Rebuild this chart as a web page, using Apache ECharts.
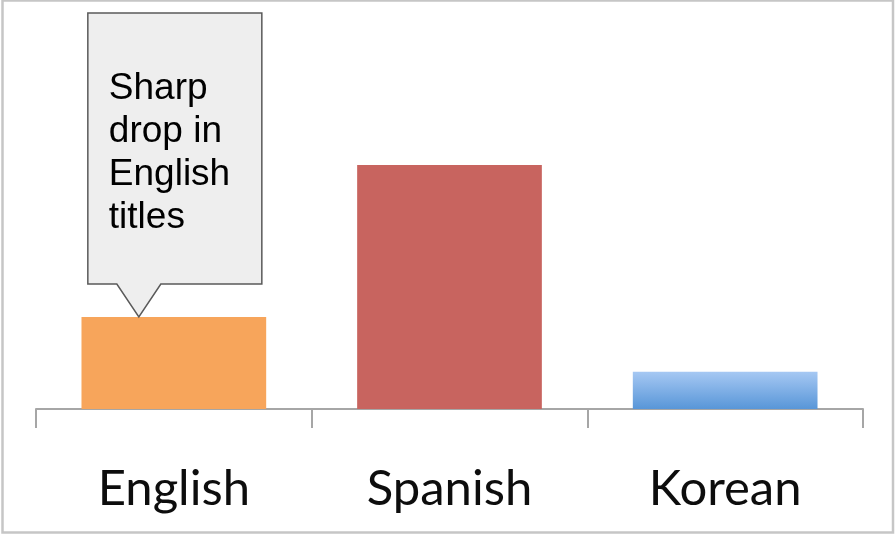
<!DOCTYPE html>
<html>
<head>
<meta charset="utf-8">
<script src="https://cdn.jsdelivr.net/npm/echarts@6/dist/echarts.min.js"></script>
<style>
  html, body { margin: 0; padding: 0; background: #fff; }
  #chart { width: 896px; height: 537px; }
</style>
</head>
<body>
<div id="chart"></div>
<script>
// Titles by language (relative share)
var languages = ['English', 'Spanish', 'Korean'];
var shares = [23, 61, 9.3];
var barColors = ['#f7a55b', '#c8645f', null];
var calloutLines = ['Sharp', 'drop in', 'English', 'titles'];

var chart = echarts.init(document.getElementById('chart'), null, { renderer: 'canvas' });

var blueFill = new echarts.graphic.LinearGradient(0, 0, 0, 1, [
  { offset: 0, color: '#a6c8f3' },
  { offset: 1, color: '#5896d8' }
]);

chart.setOption({
  animation: false,
  backgroundColor: '#ffffff',
  grid: { left: 36, right: 33, top: 9, bottom: 128 },
  xAxis: {
    type: 'category',
    data: languages,
    axisLine: { lineStyle: { color: '#a6a6a6', width: 2 } },
    axisTick: { show: true, length: 19, lineStyle: { color: '#a6a6a6', width: 2 } },
    axisLabel: {
      margin: 56,
      color: '#0d0d0d',
      fontFamily: 'Lato',
      fontSize: 49
    }
  },
  yAxis: {
    type: 'value',
    min: 0,
    max: 100,
    show: false,
    splitLine: { show: false }
  },
  series: [{
    type: 'bar',
    barWidth: '67%',
    data: shares.map(function (v, i) {
      return {
        value: v,
        itemStyle: { color: barColors[i] || blueFill }
      };
    })
  }]
});

// Callout pointing at the top of the English bar
var barTop = chart.convertToPixel({ seriesIndex: 0 }, [0, shares[0]]);
var tipX = barTop[0] - 35;
var tipY = barTop[1];
var boxL = tipX - 51, boxR = tipX + 123, boxT = 13, boxB = tipY - 33;

chart.setOption({
  graphic: [
    {
      type: 'rect',
      shape: { x: 2.5, y: 0.5, width: 890.5, height: 532 },
      style: { fill: 'none', stroke: '#c6c6c6', lineWidth: 2.5 },
      z: 100
    },
    {
      type: 'polygon',
      shape: {
        points: [
          [boxL, boxT], [boxR, boxT], [boxR, boxB],
          [tipX + 22, boxB], [tipX, tipY], [tipX - 22, boxB],
          [boxL, boxB]
        ]
      },
      style: { fill: '#eeeeee', stroke: '#5a5a5a', lineWidth: 1.5 },
      z: 50
    },
    {
      type: 'text',
      x: boxL + 21,
      y: (boxT + boxB) / 2 + 5,
      style: {
        text: calloutLines.join('\n'),
        fill: '#000000',
        fontFamily: 'Liberation Sans',
        fontSize: 37,
        lineHeight: 43,
        verticalAlign: 'middle',
        align: 'left'
      },
      z: 51
    }
  ]
});
</script>
</body>
</html>
